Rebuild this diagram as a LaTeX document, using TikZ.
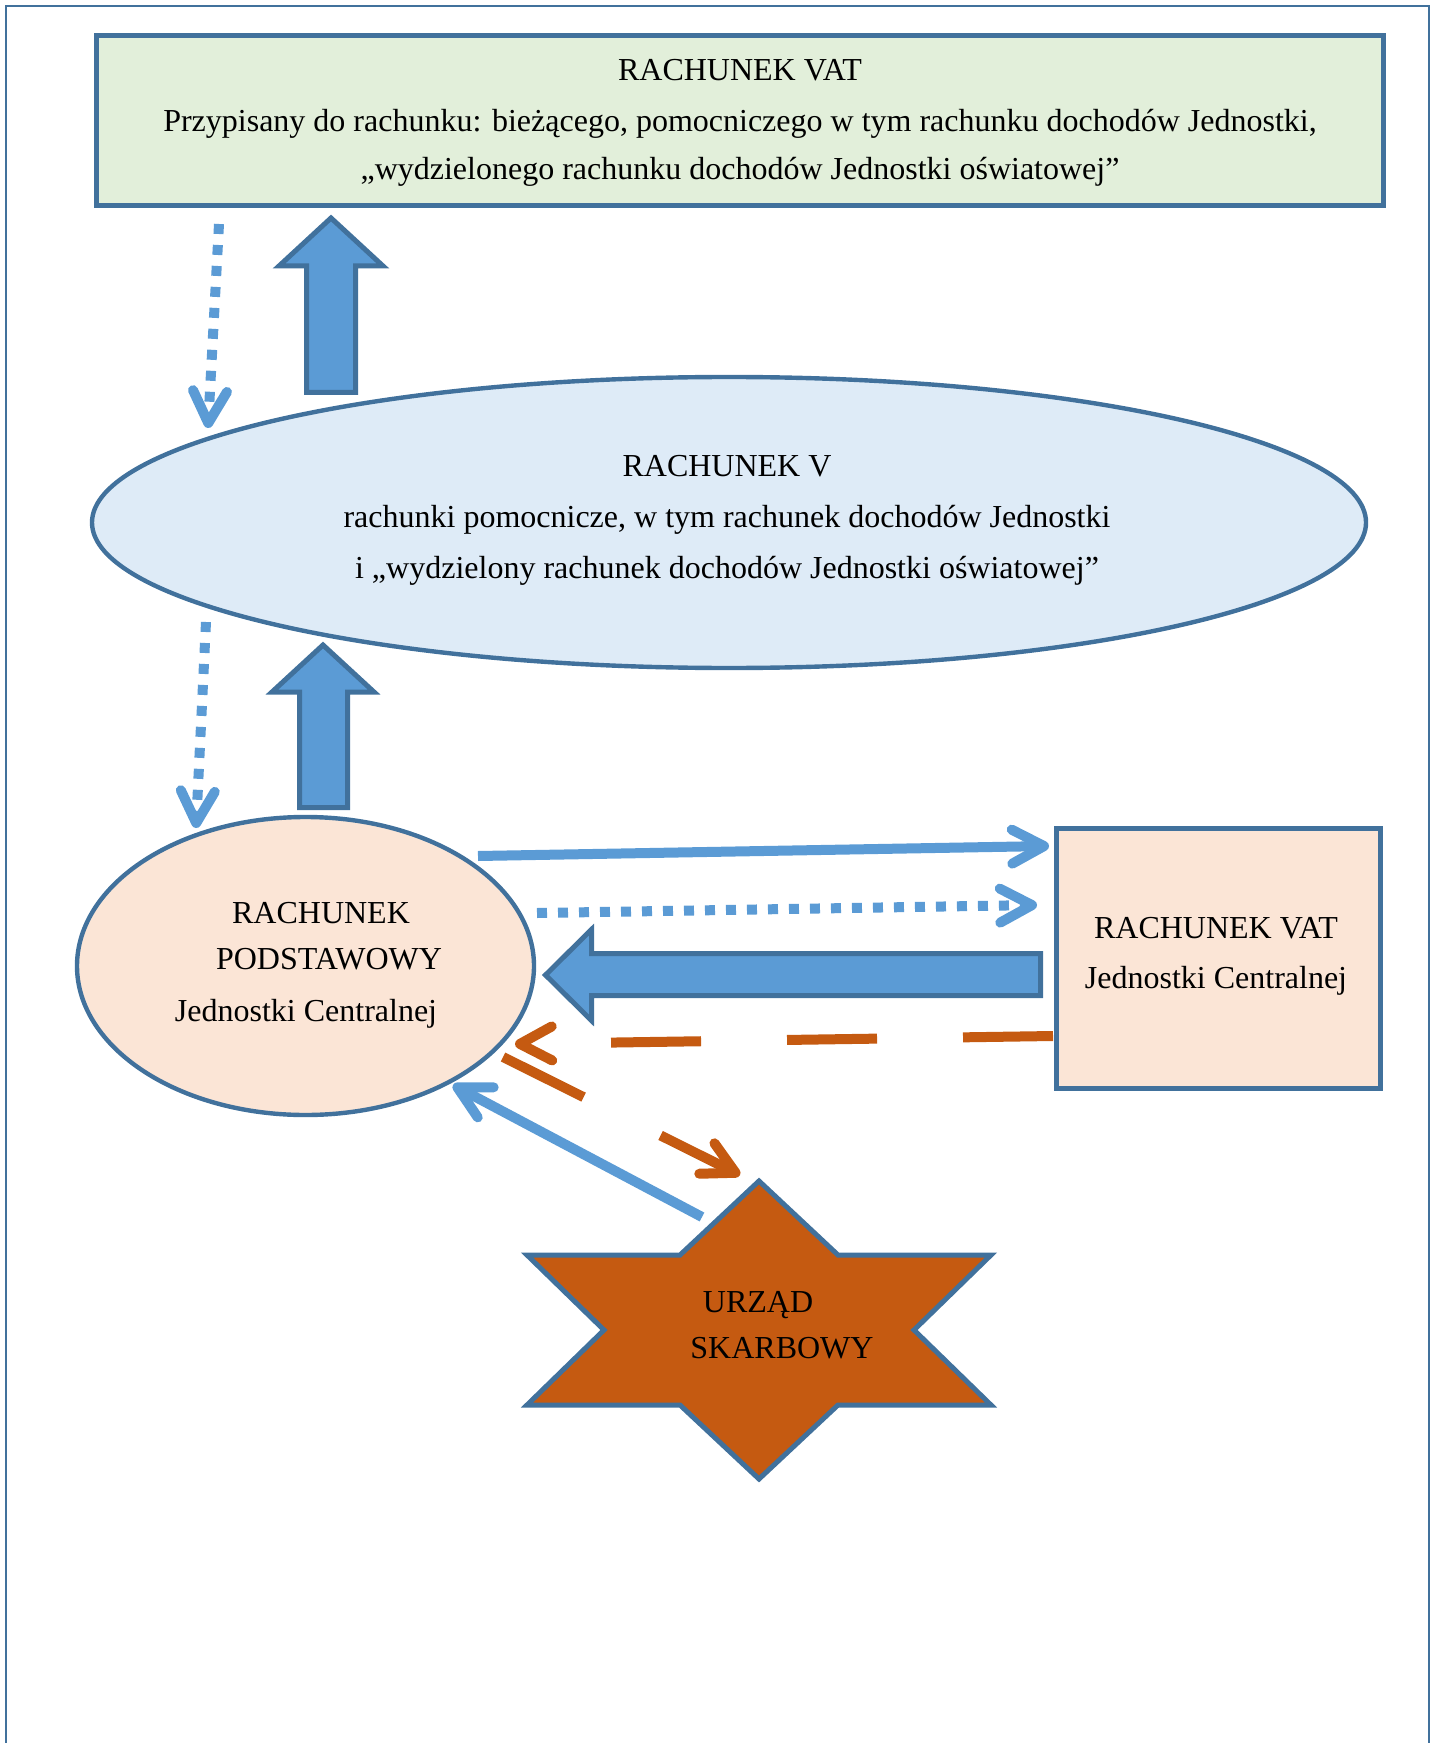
\documentclass[tikz,border=0pt]{standalone}
\usepackage{fontspec}
\setmainfont{Liberation Serif}
\usetikzlibrary{arrows.meta,shapes.geometric}
\definecolor{bfill}{HTML}{5B9BD5}
\definecolor{bline}{HTML}{41719C}
\definecolor{gfill}{HTML}{E2EFDA}
\definecolor{lbfill}{HTML}{DEEBF7}
\definecolor{pfill}{HTML}{FBE5D6}
\definecolor{orng}{HTML}{C55A11}
\begin{document}
\begin{tikzpicture}[x=0.5pt,y=-0.5pt,
  txt/.style={anchor=base,inner sep=0pt,font=\fontsize{16}{20}\selectfont},
  boxst/.style={draw=bline,line width=2.5pt,inner sep=0pt},
  ellst/.style={ellipse,draw=bline,line width=2.2pt,inner sep=0pt},
  blockarrow/.style={draw=bline,fill=bfill,line width=2.5pt,line join=miter},
  barb/.style={-{Straight Barb[length=16pt,width=17pt,round]}},
  bluearrow/.style={draw=bfill,line width=5pt,barb},
  bluedots/.style={bluearrow,dash pattern=on 5pt off 5.5pt},
  orangearrow/.style={draw=orng,line width=5pt,dash pattern=on 45pt off 43pt,barb},
  starst/.style={draw=bline,fill=orng,line width=2.5pt,line join=miter},
]
\useasboundingbox (0,0) rectangle (1434,1743);
% outer frame
\draw[bline,line width=1.2pt] (6,1743) -- (6,6) -- (1429,6) -- (1429,1743);

% shapes
\node[boxst,fill=gfill,minimum width=643.5pt,minimum height=85pt] (vattop) at (740,120.5) {};
\node[ellst,fill=lbfill,minimum width=637pt,minimum height=145.5pt] (rv) at (729,522.5) {};
\node[ellst,fill=pfill,minimum width=228.5pt,minimum height=149pt] (pod) at (305.5,966) {};
\node[boxst,fill=pfill,minimum width=162pt,minimum height=130pt] (vatc) at (1218.5,958.5) {};
\draw[starst] (759,1181) -- (838,1255) -- (991,1255) -- (914,1330) -- (991,1405) -- (838,1405)
  -- (759,1479) -- (680,1405) -- (527,1405) -- (604,1330) -- (527,1255) -- (680,1255) -- cycle;
\coordinate (us) at (759,1330);

% texts
\node[txt] (t1) at (740,81) {RACHUNEK VAT};
\node[txt] (t2) at (740,132) {Przypisany do rachunku: bieżącego, pomocniczego w tym rachunku dochodów Jednostki,};
\node[txt] (t3) at (740,180) {„wydzielonego rachunku dochodów Jednostki oświatowej”};
\node[txt] (v1) at (727,476) {RACHUNEK V};
\node[txt] (v2) at (727,527) {rachunki pomocnicze, w tym rachunek dochodów Jednostki};
\node[txt] (v3) at (727,578) {i „wydzielony rachunek dochodów Jednostki oświatowej”};
\node[txt] (p1) at (321,923) {RACHUNEK};
\node[txt] (p2) at (329,969) {PODSTAWOWY};
\node[txt] (p3) at (306,1021) {Jednostki Centralnej};
\node[txt] (c1) at (1216,938) {RACHUNEK VAT};
\node[txt] (c2) at (1216,988) {Jednostki Centralnej};
\node[txt] (s1) at (758,1312) {URZĄD};
\node[txt] (s2) at (782,1358) {SKARBOWY};

% block arrows
\draw[blockarrow] (331,218) -- (383,266) -- (355.5,266) -- (355.5,392.5) -- (306.5,392.5)
  -- (306.5,266) -- (279,266) -- cycle;
\draw[blockarrow] (323,645) -- (374,692) -- (347.5,692) -- (347.5,807.5) -- (299.5,807.5)
  -- (299.5,692) -- (272,692) -- cycle;
\draw[blockarrow] (545.5,975) -- (591.5,929.5) -- (591.5,953.5) -- (1040.5,953.5)
  -- (1040.5,995.5) -- (591.5,995.5) -- (591.5,1020.5) -- cycle;

% connector end points
\coordinate (d1s) at (219,224);  \coordinate (d1e) at (208,428);
\coordinate (d2s) at (206,622);  \coordinate (d2e) at (196,828);
\coordinate (a1s) at (478,856);  \coordinate (a1e) at (1049,846);
\coordinate (d3s) at (537,913);  \coordinate (d3e) at (1037,905);
\coordinate (o1s) at (1053,1036); \coordinate (o1e) at (515,1044);
\coordinate (o2s) at (503,1057); \coordinate (o2e) at (740,1175);
\coordinate (a2s) at (702,1217); \coordinate (a2e) at (453,1085);

\draw[bluedots] (d1s) -- (d1e);
\draw[bluedots] (d2s) -- (d2e);
\draw[bluearrow] (a1s) -- (a1e);
\draw[bluedots] (d3s) -- (d3e);
\draw[orangearrow] (o1s) -- (o1e);
\draw[orangearrow] (o2s) -- (o2e);
\draw[bluearrow] (a2s) -- (a2e);
\end{tikzpicture}
\end{document}
